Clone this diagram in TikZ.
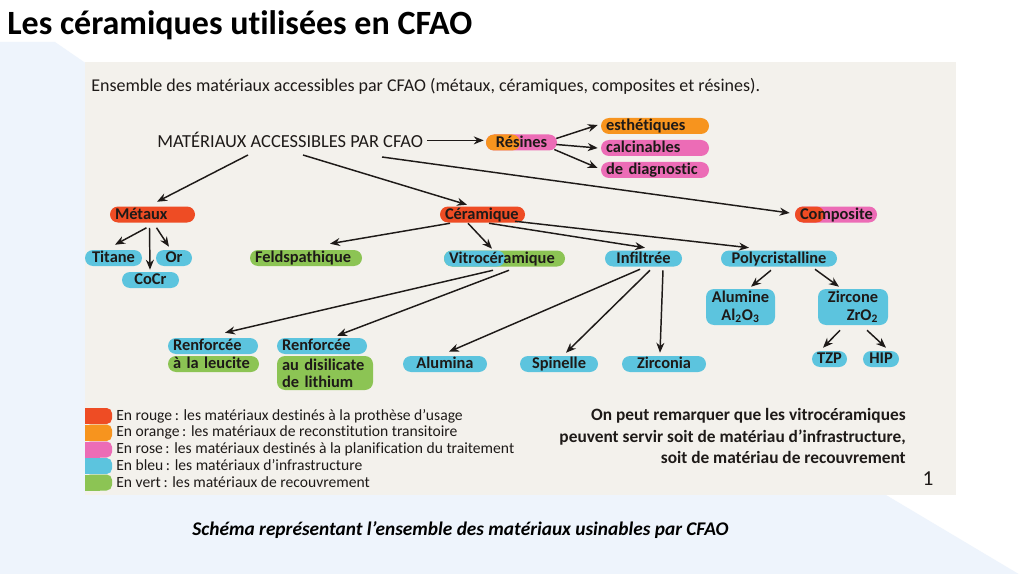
\documentclass[tikz,border=0pt]{standalone}
\usepackage{fontspec}
\setmainfont{Carlito}[Ligatures=NoCommon]
\newfontfamily\pillfont{Carlito}[Ligatures=NoCommon, WordSpace=0.8]
\usepackage{tikz}
\usetikzlibrary{arrows.meta,calc}

\definecolor{crouge}{RGB}{238,76,36}
\definecolor{corange}{RGB}{247,148,30}
\definecolor{crose}{RGB}{236,108,182}
\definecolor{cbleu}{RGB}{92,196,222}
\definecolor{cvert}{RGB}{140,196,84}
\definecolor{panneau}{RGB}{243,241,236}
\definecolor{fond}{RGB}{238,244,252}
\definecolor{encre}{RGB}{30,26,24}

\begin{document}
\begin{tikzpicture}[x=0.75pt,y=0.75pt,yscale=-1,xscale=1,
  pill/.style={rounded corners=6pt, inner xsep=3.75pt, inner ysep=0pt, minimum height=12pt, text height=9.6pt, text depth=2.4pt, text=encre, font=\pillfont\fontsize{12.3}{13}\selectfont\bfseries},
  pilltwo/.style={rounded corners=6pt, inner xsep=3.75pt, inner ysep=0pt, text=encre, font=\pillfont\fontsize{12.3}{13}\selectfont\bfseries},
  twotone/.style n args={3}{fill=#2, path picture={\fill[#1] (path picture bounding box.north west) rectangle ([xshift=#3]path picture bounding box.south west);}},
  fleche/.style={-{Stealth[length=7.5pt,width=6pt]}, line width=1.1pt, draw=encre},
  legende/.style={anchor=west, inner sep=0pt, text=encre, font=\fontsize{11.7}{12}\selectfont}
]
\useasboundingbox (0,0) rectangle (1024,574);

%Shape: Background
\fill[white] (0,0) rectangle (1024,574);
\fill[fond] (0,42) -- (55,42) -- (100,73) -- (886,495) -- (1022,576) -- (0,576) -- cycle;
%Shape: Panel
\fill[panneau] (85,62) rectangle (956,495);

% Text Node
\node[anchor=base west, inner sep=0pt, font=\fontsize{25.5}{30}\selectfont\bfseries] (titre) at (7,35) {Les céramiques utilisées en CFAO};
% Text Node
\node[anchor=base west, inner sep=0pt, text=encre, font=\fontsize{13.5}{15}\selectfont] (entete) at (91,92) {Ensemble des matériaux accessibles par CFAO (métaux, céramiques, composites et résines).};
% Text Node
\node[anchor=base west, inner sep=0pt, text=encre, font=\fontsize{13.8}{15}\selectfont] (mat) at (157,148) {MATÉRIAUX ACCESSIBLES PAR CFAO};

%Shape: Rounded Rectangle
\node[pill, twotone={corange}{crose}{25.5pt}, minimum width=53.25pt] (res) at (521.5,142.5) {Résines};
\node[pill, fill=corange, text width=73.5pt, align=left] (esth) at (655,126) {esthétiques};
\node[pill, fill=crose, text width=73.5pt, align=left] (calc) at (655,148) {calcinables};
\node[pill, fill=crose, text width=73.5pt, align=left] (diag) at (655,170) {de diagnostic};

\node[pill, fill=crouge, text width=56.25pt, align=left] (met) at (152.5,214.5) {Métaux};
\node[pill, fill=crouge, text width=56.25pt, align=left] (cer) at (482.5,214.5) {Céramique};
\node[pill, twotone={crouge}{crose}{22pt}, text width=54pt, align=left] (compo) at (836,214.5) {Composite};

\node[pill, fill=cbleu, minimum width=42.75pt] (tit) at (113.5,258) {Titane};
\node[pill, fill=cbleu, minimum width=27pt] (or) at (174,258) {Or};
\node[pill, fill=cbleu, minimum width=42.75pt] (cocr) at (150.5,280) {CoCr};

\node[pill, fill=cvert, text width=76.5pt, align=left] (feld) at (306,258) {Feldspathique};
\node[pill, twotone={cbleu}{cvert}{45.75pt}, text width=83.25pt, align=left] (vitro) at (504.5,258.5) {Vitrocéramique};
\node[pill, fill=cbleu, minimum width=57.75pt] (infil) at (643.5,258.5) {Infiltrée};
\node[pill, fill=cbleu, minimum width=87pt] (poly) at (779,258.5) {Polycristalline};

\node[pilltwo, fill=cbleu, minimum width=51.75pt, minimum height=27pt, align=center] (alumine) at (740.5,307) {Alumine\\Al\textsubscript{2}O\textsubscript{3}};
\node[pilltwo, fill=cbleu, minimum width=52.5pt, minimum height=27pt, align=right] (zircone) at (853,307) {Zircone\\ZrO\textsubscript{2}};
\node[pill, fill=cbleu, minimum width=26.25pt] (tzp) at (829.5,359) {TZP};
\node[pill, fill=cbleu, minimum width=27pt] (hip) at (881,359) {HIP};

\node[pill, fill=cbleu, text width=60pt, align=left] (renfa) at (213,346) {Renforcée};
\node[pill, fill=cvert, text width=60.75pt, align=left] (leuc) at (213.5,364) {à la leucite};
\node[pill, fill=cbleu, text width=60pt, align=left] (renfb) at (322,346) {Renforcée};
\node[pilltwo, fill=cvert, text width=64.5pt, minimum height=25.5pt, align=left] (disil) at (325,373) {au disilicate\\de lithium};

\node[pill, fill=cbleu, minimum width=63pt] (alumina) at (445,364) {Alumina};
\node[pill, fill=cbleu, minimum width=58.5pt] (spin) at (559,364) {Spinelle};
\node[pill, fill=cbleu, minimum width=63pt] (zirc) at (664,364) {Zirconia};

%Straight Lines
\draw[fleche, shorten <=3pt, shorten >=1.5pt] (mat.east) -- (mat.east -| res.west);
\draw[fleche] ($(mat.base west)+(91,7)$) -- ($(met.north)+(4.5,-4.5)$);
\draw[fleche] ($(mat.base west)+(146,7)$) -- ($(cer.north)+(-15.5,-1.5)$);
\draw[fleche] ($(mat.base west)+(225,9)$) -- ($(compo.west)+(-5,-1.5)$);
%Straight Lines
\draw[fleche] ($(res.east)+(-1,-4)$) -- ($(esth.west)+(-3,-1)$);
\draw[fleche] ($(res.east)+(-1,2)$) -- ($(calc.west)+(-3,0)$);
\draw[fleche] ($(res.east)+(-3,7)$) -- ($(diag.west)+(-3,-2)$);
%Straight Lines
\draw[fleche] ($(met.south)+(-6,5)$) -- ($(tit.north)+(1.5,-5)$);
\draw[fleche] ($(met.south)+(-3,5)$) -- ($(cocr.north)+(-0.5,-2)$);
\draw[fleche] ($(met.south)+(4,5)$) -- ($(or.north)+(-5,-3)$);
%Straight Lines
\draw[fleche] ($(cer.south)+(-32.5,0.5)$) -- ($(feld.north)+(24,-6)$);
\draw[fleche] ($(cer.south)+(-14.5,0.5)$) -- ($(vitro.north)+(-12.5,-1.5)$);
\draw[fleche] ($(cer.south)+(6.5,0.5)$) -- ($(infil.north)+(1.5,-2.5)$);
\draw[fleche] ($(cer.south)+(32.5,-1.5)$) -- ($(poly.north)+(-30,-2.5)$);
%Straight Lines
\draw[fleche] ($(vitro.south)+(-11.5,3.5)$) -- ($(renfa.north)+(12,-5)$);
\draw[fleche] ($(vitro.south)+(4.5,3.5)$) -- ($(renfb.north)+(15,-2)$);
\draw[fleche] ($(infil.south)+(-3.5,2.5)$) -- ($(alumina.north)+(4,-4)$);
\draw[fleche] ($(infil.south)+(6.5,3.5)$) -- ($(spin.north)+(7,-3)$);
\draw[fleche] ($(infil.south)+(19.5,3.5)$) -- ($(zirc.north)+(-4,-3)$);
%Straight Lines
\draw[fleche] ($(poly.south)+(-8,3.5)$) -- ($(alumine.north)+(10.5,-2)$);
\draw[fleche] ($(poly.south)+(36,2.5)$) -- ($(zircone.north)+(-14,-2)$);
\draw[fleche] ($(zircone.south)+(-13,5)$) -- ($(tzp.north)+(-6.5,-3)$);
\draw[fleche] ($(zircone.south)+(14,5)$) -- ($(hip.north)+(5,-3)$);

%Shape: Legend keys
\fill[crouge, rounded corners=4pt] (85,408) rectangle (112,424);
\fill[crouge] (85,408) rectangle (100,424);
\fill[corange, rounded corners=4pt] (85,424.5) rectangle (112,441);
\fill[corange] (85,424.5) rectangle (100,441);
\fill[crose, rounded corners=4pt] (85,441.5) rectangle (112,457.5);
\fill[crose] (85,441.5) rectangle (100,457.5);
\fill[cbleu, rounded corners=4pt] (85,458) rectangle (112,474);
\fill[cbleu] (85,458) rectangle (100,474);
\fill[cvert, rounded corners=4pt] (85,474.5) rectangle (112,490.5);
\fill[cvert] (85,474.5) rectangle (100,490.5);

% Text Node
\node[legende] (lega) at (116,416) {En rouge\,: les matériaux destinés à la prothèse d’usage};
\node[legende] (legb) at (116,432.5) {En orange\,: les matériaux de reconstitution transitoire};
\node[legende] (legc) at (116,449) {En rose\,: les matériaux destinés à la planification du traitement};
\node[legende] (legd) at (116,465.5) {En bleu\,: les matériaux d’infrastructure};
\node[legende] (lege) at (116,482) {En vert\,: les matériaux de recouvrement};

% Text Node
\node[anchor=east, inner sep=0pt, align=right, text=encre, font=\fontsize{13}{15.8}\selectfont\bfseries] (remarque) at (906,436) {On peut remarquer que les vitrocéramiques\\peuvent servir soit de matériau d’infrastructure,\\soit de matériau de recouvrement};
% Text Node
\node[inner sep=0pt, text=encre, font=\fontsize{16}{18}\selectfont] (numero) at (928,479) {1};
% Text Node
\node[inner sep=0pt, font=\fontsize{14.5}{16}\selectfont\bfseries\itshape] (schema) at (460.5,530) {Schéma représentant l’ensemble des matériaux usinables par CFAO};

\end{tikzpicture}
\end{document}
